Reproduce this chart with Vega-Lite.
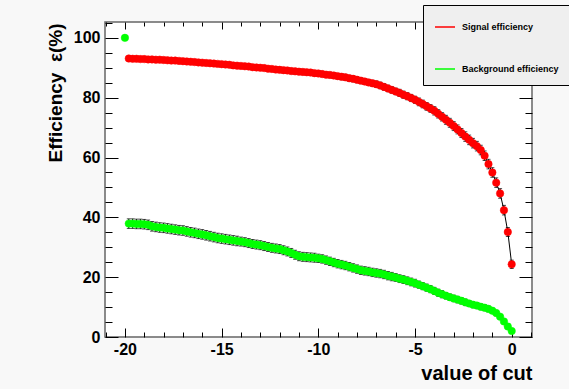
{
"$schema": "https://vega.github.io/schema/vega-lite/v6.json",
"width": 427, "height": 315,
"autosize": {"type": "none"},
"padding": {"left": 105, "top": 22, "right": 37, "bottom": 52},
"background": "#f8f8f8",
"config": {
  "font": "Liberation Sans",
  "view": {"fill": "white", "stroke": "#666666", "strokeWidth": 1.5},
  "axis": {"grid": false, "domain": false, "tickColor": "black", "tickWidth": 1, "labelFont": "Liberation Sans", "labelFontWeight": "bold", "labelFontSize": 16, "labelColor": "black", "titleFont": "Liberation Sans", "titleFontWeight": "bold", "titleColor": "black"}
},
"data": {"values": [
{"x":-20,"series":"Background efficiency","eff":100,"err":0},
{"x":-19.8,"series":"Signal efficiency","eff":93.1,"err":0.7},
{"x":-19.6,"series":"Signal efficiency","eff":93.0,"err":0.7},
{"x":-19.4,"series":"Signal efficiency","eff":93.0,"err":0.7},
{"x":-19.2,"series":"Signal efficiency","eff":92.9,"err":0.7},
{"x":-19.0,"series":"Signal efficiency","eff":92.9,"err":0.7},
{"x":-18.8,"series":"Signal efficiency","eff":92.8,"err":0.7},
{"x":-18.6,"series":"Signal efficiency","eff":92.8,"err":0.7},
{"x":-18.4,"series":"Signal efficiency","eff":92.7,"err":0.7},
{"x":-18.2,"series":"Signal efficiency","eff":92.7,"err":0.7},
{"x":-18.0,"series":"Signal efficiency","eff":92.6,"err":0.7},
{"x":-17.8,"series":"Signal efficiency","eff":92.5,"err":0.7},
{"x":-17.6,"series":"Signal efficiency","eff":92.4,"err":0.7},
{"x":-17.4,"series":"Signal efficiency","eff":92.4,"err":0.7},
{"x":-17.2,"series":"Signal efficiency","eff":92.3,"err":0.7},
{"x":-17.0,"series":"Signal efficiency","eff":92.2,"err":0.7},
{"x":-16.8,"series":"Signal efficiency","eff":92.1,"err":0.7},
{"x":-16.6,"series":"Signal efficiency","eff":92.0,"err":0.7},
{"x":-16.4,"series":"Signal efficiency","eff":91.9,"err":0.7},
{"x":-16.2,"series":"Signal efficiency","eff":91.8,"err":0.7},
{"x":-16.0,"series":"Signal efficiency","eff":91.7,"err":0.7},
{"x":-15.8,"series":"Signal efficiency","eff":91.6,"err":0.8},
{"x":-15.6,"series":"Signal efficiency","eff":91.5,"err":0.8},
{"x":-15.4,"series":"Signal efficiency","eff":91.4,"err":0.8},
{"x":-15.2,"series":"Signal efficiency","eff":91.3,"err":0.8},
{"x":-15.0,"series":"Signal efficiency","eff":91.2,"err":0.8},
{"x":-14.8,"series":"Signal efficiency","eff":91.1,"err":0.8},
{"x":-14.6,"series":"Signal efficiency","eff":91.0,"err":0.8},
{"x":-14.4,"series":"Signal efficiency","eff":90.8,"err":0.8},
{"x":-14.2,"series":"Signal efficiency","eff":90.7,"err":0.8},
{"x":-14.0,"series":"Signal efficiency","eff":90.6,"err":0.8},
{"x":-13.8,"series":"Signal efficiency","eff":90.5,"err":0.8},
{"x":-13.6,"series":"Signal efficiency","eff":90.4,"err":0.8},
{"x":-13.4,"series":"Signal efficiency","eff":90.2,"err":0.8},
{"x":-13.2,"series":"Signal efficiency","eff":90.1,"err":0.8},
{"x":-13.0,"series":"Signal efficiency","eff":90.0,"err":0.8},
{"x":-12.8,"series":"Signal efficiency","eff":89.9,"err":0.8},
{"x":-12.6,"series":"Signal efficiency","eff":89.7,"err":0.8},
{"x":-12.4,"series":"Signal efficiency","eff":89.6,"err":0.8},
{"x":-12.2,"series":"Signal efficiency","eff":89.4,"err":0.8},
{"x":-12.0,"series":"Signal efficiency","eff":89.3,"err":0.9},
{"x":-11.8,"series":"Signal efficiency","eff":89.2,"err":0.9},
{"x":-11.6,"series":"Signal efficiency","eff":89.1,"err":0.9},
{"x":-11.4,"series":"Signal efficiency","eff":88.9,"err":0.9},
{"x":-11.2,"series":"Signal efficiency","eff":88.8,"err":0.9},
{"x":-11.0,"series":"Signal efficiency","eff":88.7,"err":0.9},
{"x":-10.8,"series":"Signal efficiency","eff":88.6,"err":0.9},
{"x":-10.6,"series":"Signal efficiency","eff":88.5,"err":0.9},
{"x":-10.4,"series":"Signal efficiency","eff":88.4,"err":0.9},
{"x":-10.2,"series":"Signal efficiency","eff":88.2,"err":0.9},
{"x":-10.0,"series":"Signal efficiency","eff":88.1,"err":0.9},
{"x":-9.8,"series":"Signal efficiency","eff":87.9,"err":0.9},
{"x":-9.6,"series":"Signal efficiency","eff":87.7,"err":0.9},
{"x":-9.4,"series":"Signal efficiency","eff":87.6,"err":0.9},
{"x":-9.2,"series":"Signal efficiency","eff":87.4,"err":0.9},
{"x":-9.0,"series":"Signal efficiency","eff":87.2,"err":0.9},
{"x":-8.8,"series":"Signal efficiency","eff":87.0,"err":1.0},
{"x":-8.6,"series":"Signal efficiency","eff":86.8,"err":1.0},
{"x":-8.4,"series":"Signal efficiency","eff":86.5,"err":1.0},
{"x":-8.2,"series":"Signal efficiency","eff":86.3,"err":1.0},
{"x":-8.0,"series":"Signal efficiency","eff":86.0,"err":1.0},
{"x":-7.8,"series":"Signal efficiency","eff":85.7,"err":1.0},
{"x":-7.6,"series":"Signal efficiency","eff":85.4,"err":1.0},
{"x":-7.4,"series":"Signal efficiency","eff":85.1,"err":1.0},
{"x":-7.2,"series":"Signal efficiency","eff":84.8,"err":1.0},
{"x":-7.0,"series":"Signal efficiency","eff":84.5,"err":1.1},
{"x":-6.8,"series":"Signal efficiency","eff":84.1,"err":1.1},
{"x":-6.6,"series":"Signal efficiency","eff":83.6,"err":1.1},
{"x":-6.4,"series":"Signal efficiency","eff":83.1,"err":1.1},
{"x":-6.2,"series":"Signal efficiency","eff":82.6,"err":1.1},
{"x":-6.0,"series":"Signal efficiency","eff":82.1,"err":1.1},
{"x":-5.8,"series":"Signal efficiency","eff":81.6,"err":1.2},
{"x":-5.6,"series":"Signal efficiency","eff":81.0,"err":1.2},
{"x":-5.4,"series":"Signal efficiency","eff":80.5,"err":1.2},
{"x":-5.2,"series":"Signal efficiency","eff":79.9,"err":1.2},
{"x":-5.0,"series":"Signal efficiency","eff":79.3,"err":1.2},
{"x":-4.8,"series":"Signal efficiency","eff":78.6,"err":1.3},
{"x":-4.6,"series":"Signal efficiency","eff":77.9,"err":1.3},
{"x":-4.4,"series":"Signal efficiency","eff":77.1,"err":1.3},
{"x":-4.2,"series":"Signal efficiency","eff":76.4,"err":1.3},
{"x":-4.0,"series":"Signal efficiency","eff":75.6,"err":1.4},
{"x":-3.8,"series":"Signal efficiency","eff":74.6,"err":1.4},
{"x":-3.6,"series":"Signal efficiency","eff":73.6,"err":1.4},
{"x":-3.4,"series":"Signal efficiency","eff":72.6,"err":1.5},
{"x":-3.2,"series":"Signal efficiency","eff":71.6,"err":1.5},
{"x":-3.0,"series":"Signal efficiency","eff":70.5,"err":1.5},
{"x":-2.8,"series":"Signal efficiency","eff":69.4,"err":1.5},
{"x":-2.6,"series":"Signal efficiency","eff":68.2,"err":1.5},
{"x":-2.4,"series":"Signal efficiency","eff":67.0,"err":1.6},
{"x":-2.2,"series":"Signal efficiency","eff":65.9,"err":1.6},
{"x":-2.0,"series":"Signal efficiency","eff":64.8,"err":1.6},
{"x":-1.8,"series":"Signal efficiency","eff":63.8,"err":1.6},
{"x":-1.6,"series":"Signal efficiency","eff":62.5,"err":1.6},
{"x":-1.4,"series":"Signal efficiency","eff":60.6,"err":1.6},
{"x":-1.2,"series":"Signal efficiency","eff":57.8,"err":1.6},
{"x":-1.0,"series":"Signal efficiency","eff":55.0,"err":1.6},
{"x":-0.8,"series":"Signal efficiency","eff":51.6,"err":1.6},
{"x":-0.6,"series":"Signal efficiency","eff":48.0,"err":1.6},
{"x":-0.4,"series":"Signal efficiency","eff":42.4,"err":1.6},
{"x":-0.2,"series":"Signal efficiency","eff":35.1,"err":1.5},
{"x":0.0,"series":"Signal efficiency","eff":24.3,"err":1.4},
{"x":-19.8,"series":"Background efficiency","eff":37.9,"err":1.6},
{"x":-19.6,"series":"Background efficiency","eff":37.9,"err":1.6},
{"x":-19.4,"series":"Background efficiency","eff":37.8,"err":1.6},
{"x":-19.2,"series":"Background efficiency","eff":37.8,"err":1.6},
{"x":-19.0,"series":"Background efficiency","eff":37.7,"err":1.6},
{"x":-18.8,"series":"Background efficiency","eff":37.5,"err":1.6},
{"x":-18.6,"series":"Background efficiency","eff":37.0,"err":1.6},
{"x":-18.4,"series":"Background efficiency","eff":36.8,"err":1.6},
{"x":-18.2,"series":"Background efficiency","eff":36.6,"err":1.6},
{"x":-18.0,"series":"Background efficiency","eff":36.5,"err":1.6},
{"x":-17.8,"series":"Background efficiency","eff":36.3,"err":1.6},
{"x":-17.6,"series":"Background efficiency","eff":36.1,"err":1.6},
{"x":-17.4,"series":"Background efficiency","eff":35.9,"err":1.6},
{"x":-17.2,"series":"Background efficiency","eff":35.7,"err":1.6},
{"x":-17.0,"series":"Background efficiency","eff":35.6,"err":1.6},
{"x":-16.8,"series":"Background efficiency","eff":35.3,"err":1.6},
{"x":-16.6,"series":"Background efficiency","eff":35.0,"err":1.6},
{"x":-16.4,"series":"Background efficiency","eff":34.8,"err":1.6},
{"x":-16.2,"series":"Background efficiency","eff":34.5,"err":1.6},
{"x":-16.0,"series":"Background efficiency","eff":34.3,"err":1.6},
{"x":-15.8,"series":"Background efficiency","eff":34.0,"err":1.6},
{"x":-15.6,"series":"Background efficiency","eff":33.7,"err":1.6},
{"x":-15.4,"series":"Background efficiency","eff":33.4,"err":1.6},
{"x":-15.2,"series":"Background efficiency","eff":33.1,"err":1.6},
{"x":-15.0,"series":"Background efficiency","eff":32.9,"err":1.6},
{"x":-14.8,"series":"Background efficiency","eff":32.7,"err":1.6},
{"x":-14.6,"series":"Background efficiency","eff":32.5,"err":1.6},
{"x":-14.4,"series":"Background efficiency","eff":32.3,"err":1.6},
{"x":-14.2,"series":"Background efficiency","eff":32.1,"err":1.6},
{"x":-14.0,"series":"Background efficiency","eff":31.9,"err":1.5},
{"x":-13.8,"series":"Background efficiency","eff":31.7,"err":1.5},
{"x":-13.6,"series":"Background efficiency","eff":31.4,"err":1.5},
{"x":-13.4,"series":"Background efficiency","eff":31.1,"err":1.5},
{"x":-13.2,"series":"Background efficiency","eff":30.9,"err":1.5},
{"x":-13.0,"series":"Background efficiency","eff":30.7,"err":1.5},
{"x":-12.8,"series":"Background efficiency","eff":30.4,"err":1.5},
{"x":-12.6,"series":"Background efficiency","eff":30.1,"err":1.5},
{"x":-12.4,"series":"Background efficiency","eff":29.8,"err":1.5},
{"x":-12.2,"series":"Background efficiency","eff":29.6,"err":1.5},
{"x":-12.0,"series":"Background efficiency","eff":29.4,"err":1.5},
{"x":-11.8,"series":"Background efficiency","eff":29.0,"err":1.5},
{"x":-11.6,"series":"Background efficiency","eff":28.6,"err":1.5},
{"x":-11.4,"series":"Background efficiency","eff":28.1,"err":1.5},
{"x":-11.2,"series":"Background efficiency","eff":27.5,"err":1.5},
{"x":-11.0,"series":"Background efficiency","eff":27.0,"err":1.5},
{"x":-10.8,"series":"Background efficiency","eff":26.8,"err":1.5},
{"x":-10.6,"series":"Background efficiency","eff":26.7,"err":1.5},
{"x":-10.4,"series":"Background efficiency","eff":26.6,"err":1.5},
{"x":-10.2,"series":"Background efficiency","eff":26.5,"err":1.5},
{"x":-10.0,"series":"Background efficiency","eff":26.3,"err":1.4},
{"x":-9.8,"series":"Background efficiency","eff":26.1,"err":1.4},
{"x":-9.6,"series":"Background efficiency","eff":25.7,"err":1.4},
{"x":-9.4,"series":"Background efficiency","eff":25.3,"err":1.4},
{"x":-9.2,"series":"Background efficiency","eff":24.9,"err":1.4},
{"x":-9.0,"series":"Background efficiency","eff":24.5,"err":1.4},
{"x":-8.8,"series":"Background efficiency","eff":24.2,"err":1.4},
{"x":-8.6,"series":"Background efficiency","eff":23.9,"err":1.4},
{"x":-8.4,"series":"Background efficiency","eff":23.5,"err":1.4},
{"x":-8.2,"series":"Background efficiency","eff":23.1,"err":1.4},
{"x":-8.0,"series":"Background efficiency","eff":22.7,"err":1.4},
{"x":-7.8,"series":"Background efficiency","eff":22.3,"err":1.4},
{"x":-7.6,"series":"Background efficiency","eff":22.1,"err":1.4},
{"x":-7.4,"series":"Background efficiency","eff":21.9,"err":1.4},
{"x":-7.2,"series":"Background efficiency","eff":21.6,"err":1.4},
{"x":-7.0,"series":"Background efficiency","eff":21.4,"err":1.4},
{"x":-6.8,"series":"Background efficiency","eff":21.2,"err":1.4},
{"x":-6.6,"series":"Background efficiency","eff":20.9,"err":1.4},
{"x":-6.4,"series":"Background efficiency","eff":20.5,"err":1.4},
{"x":-6.2,"series":"Background efficiency","eff":20.2,"err":1.4},
{"x":-6.0,"series":"Background efficiency","eff":19.9,"err":1.3},
{"x":-5.8,"series":"Background efficiency","eff":19.5,"err":1.3},
{"x":-5.6,"series":"Background efficiency","eff":19.2,"err":1.3},
{"x":-5.4,"series":"Background efficiency","eff":18.8,"err":1.3},
{"x":-5.2,"series":"Background efficiency","eff":18.4,"err":1.3},
{"x":-5.0,"series":"Background efficiency","eff":18.0,"err":1.3},
{"x":-4.8,"series":"Background efficiency","eff":17.5,"err":1.2},
{"x":-4.6,"series":"Background efficiency","eff":17.0,"err":1.2},
{"x":-4.4,"series":"Background efficiency","eff":16.5,"err":1.2},
{"x":-4.2,"series":"Background efficiency","eff":16.0,"err":1.2},
{"x":-4.0,"series":"Background efficiency","eff":15.4,"err":1.2},
{"x":-3.8,"series":"Background efficiency","eff":14.8,"err":1.2},
{"x":-3.6,"series":"Background efficiency","eff":14.3,"err":1.2},
{"x":-3.4,"series":"Background efficiency","eff":13.8,"err":1.1},
{"x":-3.2,"series":"Background efficiency","eff":13.3,"err":1.1},
{"x":-3.0,"series":"Background efficiency","eff":12.9,"err":1.1},
{"x":-2.8,"series":"Background efficiency","eff":12.5,"err":1.1},
{"x":-2.6,"series":"Background efficiency","eff":12.1,"err":1.1},
{"x":-2.4,"series":"Background efficiency","eff":11.6,"err":1.1},
{"x":-2.2,"series":"Background efficiency","eff":11.2,"err":1.0},
{"x":-2.0,"series":"Background efficiency","eff":10.8,"err":1.0},
{"x":-1.8,"series":"Background efficiency","eff":10.5,"err":1.0},
{"x":-1.6,"series":"Background efficiency","eff":10.1,"err":1.0},
{"x":-1.4,"series":"Background efficiency","eff":9.8,"err":1.0},
{"x":-1.2,"series":"Background efficiency","eff":9.4,"err":1.0},
{"x":-1.0,"series":"Background efficiency","eff":8.8,"err":0.9},
{"x":-0.8,"series":"Background efficiency","eff":8.0,"err":0.9},
{"x":-0.6,"series":"Background efficiency","eff":6.8,"err":0.8},
{"x":-0.4,"series":"Background efficiency","eff":5.2,"err":0.7},
{"x":-0.2,"series":"Background efficiency","eff":3.5,"err":0.6},
{"x":0.0,"series":"Background efficiency","eff":2.0,"err":0.5}
]},
"layer": [
  {
    "transform": [{"filter": "datum.x > -20"}],
    "mark": {"type": "line", "color": "black", "strokeWidth": 1},
    "encoding": {
      "x": {"field": "x", "type": "quantitative", "scale": {"domain": [-21.03, 1.05], "nice": false, "zero": false},
        "axis": {"orient": "bottom", "values": [-20, -15, -10, -5, 0], "labelExpr": "'' + datum.value", "tickSize": -9, "labelPadding": 13,
          "title": "value of cut", "titleFontSize": 20, "titleAnchor": "end", "titleAlign": "right", "titleX": 427, "titleY": 42, "titleBaseline": "alphabetic"}},
      "y": {"field": "eff", "type": "quantitative", "scale": {"domain": [0, 105.3], "nice": false, "zero": false},
        "axis": {"orient": "left", "values": [0, 20, 40, 60, 80, 100], "tickSize": -13, "labelPadding": 18,
          "title": "Efficiency\u00a0\u00a0ε(%)", "titleFontSize": 19, "titleAnchor": "end", "titleAlign": "right", "titleX": -44, "titleY": 1, "titleBaseline": "alphabetic"}},
      "detail": {"field": "series"}
    }
  },
  {
    "transform": [{"filter": "datum.x > -20"}],
    "mark": {"type": "errorbar", "color": "black", "ticks": {"size": 4}},
    "encoding": {
      "x": {"field": "x", "type": "quantitative",
        "axis": {"orient": "bottom", "values": [-21,-19,-18,-17,-16,-14,-13,-12,-11,-9,-8,-7,-6,-4,-3,-2,-1,1], "tickSize": -5, "labels": false, "title": null}},
      "y": {"field": "eff", "type": "quantitative",
        "axis": {"orient": "left", "values": [5,10,15,25,30,35,45,50,55,65,70,75,85,90,95,105], "tickSize": -7, "labels": false, "title": null}},
      "yError": {"field": "err"},
      "detail": {"field": "series"}
    }
  },
  {
    "transform": [{"filter": "datum.x > -20"}],
    "mark": {"type": "circle", "size": 56, "opacity": 1, "strokeWidth": 0.5},
    "encoding": {
      "x": {"field": "x", "type": "quantitative",
        "axis": {"orient": "top", "values": [-20, -15, -10, -5, 0], "tickSize": -7, "labels": false, "title": null}},
      "y": {"field": "eff", "type": "quantitative",
        "axis": {"orient": "right", "values": [0, 20, 40, 60, 80, 100], "tickSize": -13, "labels": false, "title": null}},
      "fill": {"field": "series", "type": "nominal",
        "scale": {"domain": ["Signal efficiency", "Background efficiency"], "range": ["#ff0000", "#00ff00"]},
        "legend": {"title": null, "orient": "none", "legendX": 318, "legendY": -17,
          "symbolType": "stroke", "symbolSize": 400, "symbolStrokeWidth": 1.5,
          "labelFont": "Liberation Sans", "labelFontSize": 9, "labelFontWeight": "bold", "labelColor": "black",
          "labelOffset": 6, "padding": 11, "rowPadding": 26, "fillColor": "#efefef", "strokeColor": "black"}},
      "stroke": {"field": "series", "type": "nominal",
        "scale": {"domain": ["Signal efficiency", "Background efficiency"], "range": ["#ff0000", "#00ff00"]},
        "legend": {"title": null, "orient": "none", "legendX": 318, "legendY": -17,
          "symbolType": "stroke", "symbolSize": 400, "symbolStrokeWidth": 1.5,
          "labelFont": "Liberation Sans", "labelFontSize": 9, "labelFontWeight": "bold", "labelColor": "black",
          "labelOffset": 6, "padding": 11, "rowPadding": 26, "fillColor": "#efefef", "strokeColor": "black"}}
    }
  },
  {
    "transform": [{"filter": "datum.x <= -20"}],
    "mark": {"type": "circle", "size": 56, "opacity": 1, "strokeWidth": 0.5},
    "encoding": {
      "x": {"field": "x", "type": "quantitative",
        "axis": {"orient": "top", "values": [-21,-19,-18,-17,-16,-14,-13,-12,-11,-9,-8,-7,-6,-4,-3,-2,-1,1], "tickSize": -4, "labels": false, "title": null}},
      "y": {"field": "eff", "type": "quantitative",
        "axis": {"orient": "right", "values": [5,10,15,25,30,35,45,50,55,65,70,75,85,90,95,105], "tickSize": -7, "labels": false, "title": null}},
      "fill": {"field": "series", "type": "nominal"},
      "stroke": {"field": "series", "type": "nominal"}
    }
  }
],
"resolve": {"axis": {"x": "independent", "y": "independent"}}
}
